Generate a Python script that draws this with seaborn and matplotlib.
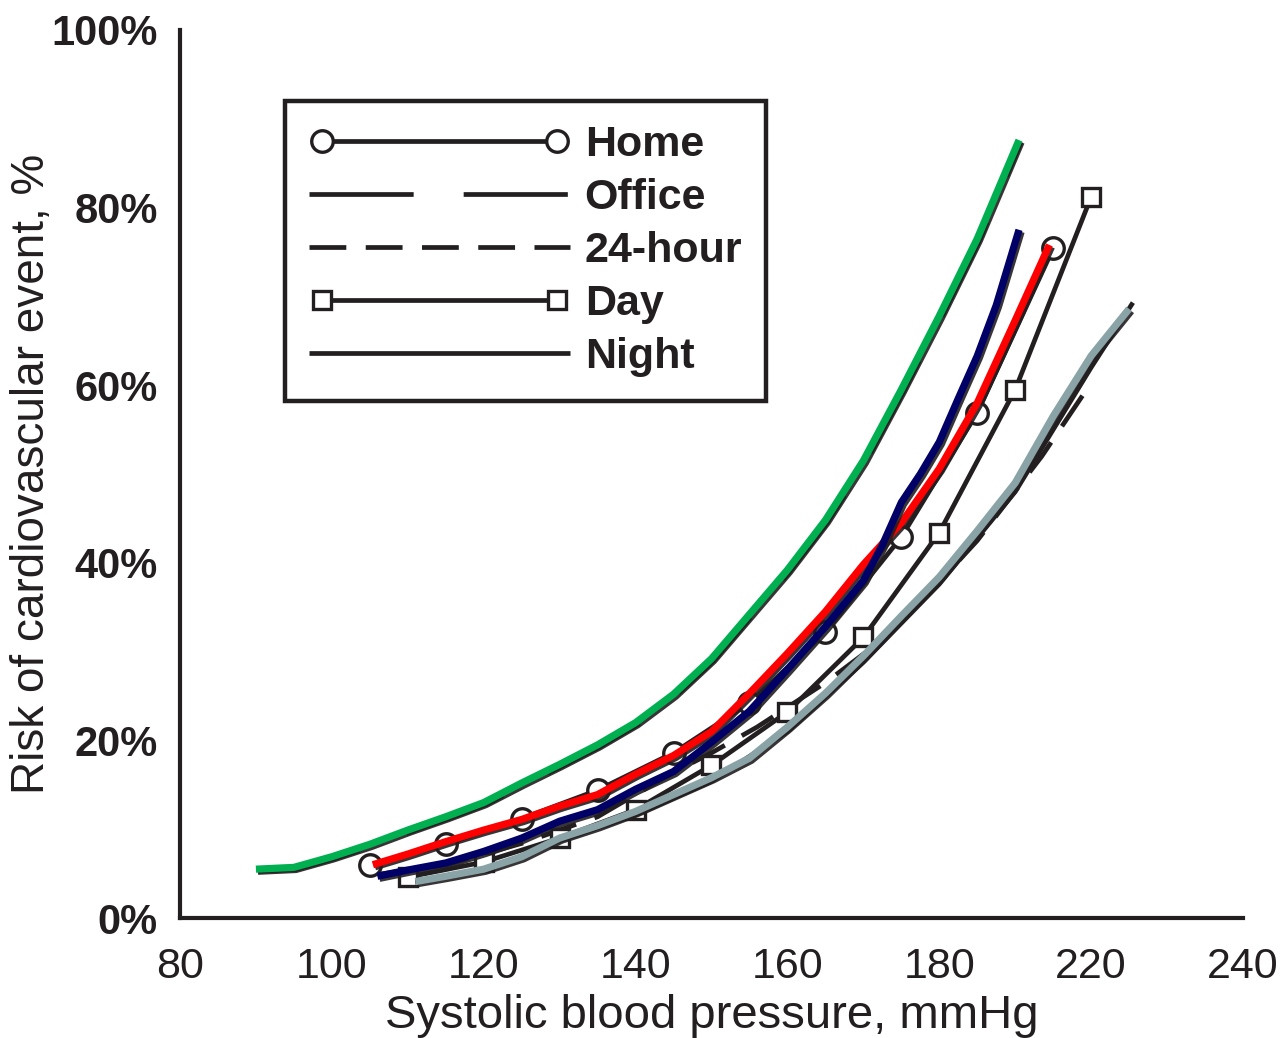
import numpy as np
import pandas as pd
import matplotlib
matplotlib.use("Agg")
import matplotlib.pyplot as plt
import matplotlib.transforms as mtransforms
from matplotlib import patheffects as pe
from matplotlib import font_manager
from matplotlib.legend_handler import HandlerLine2D
import seaborn as sns

# ---------------- data (x in axis position units, y in %) ----------------
x_ticks = [80, 100, 120, 140, 160, 180, 200, 220]
x_tick_labels = ["80", "100", "120", "140", "160", "180", "220", "240"]
y_ticks = [0, 20, 40, 60, 80, 100]
y_tick_labels = ["0%", "20%", "40%", "60%", "80%", "100%"]

legend_labels = ["Home", "Office", "24-hour", "Day", "Night"]

# black curves
home_x = [105, 115, 125, 135, 145, 155, 165, 175, 185, 195]
home_y = [6.0, 8.3, 11.2, 14.4, 18.6, 24.2, 32.2, 42.9, 56.9, 75.4]

office_x = [90, 95, 100, 105, 110, 115, 120, 125, 130, 135, 140, 145, 150,
            155, 160, 165, 170, 175, 180, 185, 190.5]
office_y = [5.5, 5.7, 6.9, 8.3, 9.9, 11.4, 13.0, 15.2, 17.3, 19.5, 22.0,
            25.2, 29.2, 34.2, 39.2, 44.8, 51.5, 59.5, 67.8, 76.5, 87.6]

h24_x = [106, 115, 125, 135, 145, 150, 156, 165, 172, 178, 185, 193.5, 199]
h24_y = [4.9, 6.0, 8.4, 11.4, 16.4, 18.6, 21.5, 26.5, 31.0, 36.0, 42.5, 52.0, 59.0]

day_x = [110, 120, 130, 140, 150, 160, 170, 180, 190, 200]
day_y = [4.6, 6.3, 9.0, 12.2, 17.2, 23.2, 31.6, 43.4, 59.5, 81.2]

night_x = [111, 120, 130, 140, 150, 160, 170, 180, 190, 200, 205.5]
night_y = [4.0, 5.3, 8.7, 11.6, 15.4, 21.0, 28.8, 37.6, 48.0, 62.0, 69.3]

# coloured overlay curves
green_x = office_x
green_y = office_y

red_x = [105.4, 110, 115, 120, 125, 130, 135, 140, 145, 150, 155, 160, 165,
         170, 175, 180, 185, 190, 194.5]
red_y = [6.0, 7.2, 8.6, 9.9, 11.1, 12.6, 13.9, 16.2, 18.3, 21.0, 25.3, 29.8,
         34.5, 39.8, 44.5, 50.6, 58.0, 67.3, 75.8]

navy_x = [106, 110, 115, 120, 125, 130, 135, 140, 145, 150, 155, 160, 165,
          170, 172.5, 175, 177.5, 180, 182.5, 185, 187.5, 190.5]
navy_y = [4.7, 5.4, 6.2, 7.5, 9.0, 10.9, 12.2, 14.5, 16.5, 19.8, 23.3, 28.0,
          32.8, 38.0, 42.0, 46.8, 50.0, 53.6, 58.5, 63.3, 69.0, 77.5]

gray_x = [111, 115, 120, 125, 130, 135, 140, 145, 150, 155, 160, 165, 170,
          175, 180, 185, 190, 195, 200, 205]
gray_y = [4.1, 4.7, 5.5, 6.9, 9.0, 10.4, 12.0, 13.9, 15.8, 18.0, 21.5, 25.3,
          29.5, 34.0, 38.4, 43.6, 49.0, 56.5, 63.3, 68.6]

# ---------------- style ----------------
sns.set_theme(style="white")
names = {f.name for f in font_manager.fontManager.ttflist}
main_font = "Liberation Sans" if "Liberation Sans" in names else "DejaVu Sans"
plt.rcParams["font.family"] = [main_font, "DejaVu Sans"]
plt.rcParams["lines.scale_dashes"] = False
plt.rcParams["lines.solid_capstyle"] = "butt"

INK = "#231f20"
C_GREEN = "#00b050"
C_RED = "#ff0000"
C_NAVY = "#000066"
C_GRAY = "#8aa3a6"

fig = plt.figure(figsize=(12.81, 10.38), dpi=100)
ax = fig.add_axes([180 / 1281, 1 - 918 / 1038, (1243 - 180) / 1281, (918 - 30) / 1038])
ax.set_facecolor("white")

BLW = 3.4
shadow = [pe.SimpleLineShadow(offset=(1.5, -1.5), shadow_color=INK, alpha=0.9), pe.Normal()]

# black curves
sns.lineplot(x=home_x, y=home_y, ax=ax, color=INK, lw=BLW, marker="o", markersize=15.5,
             markerfacecolor="white", markeredgecolor=INK, markeredgewidth=2.4,
             sort=False, estimator=None, zorder=2)
home_line = ax.lines[-1]

off_tr = mtransforms.offset_copy(ax.transData, fig=fig, x=2, y=-2, units="dots")
sns.lineplot(x=office_x, y=office_y, ax=ax, color=INK, lw=BLW,
             linestyle=(0, (75, 36)), sort=False, estimator=None, zorder=2,
             transform=off_tr)
office_line = ax.lines[-1]

sns.lineplot(x=h24_x, y=h24_y, ax=ax, color=INK, lw=BLW,
             linestyle=(0, (26.5, 14)), sort=False, estimator=None, zorder=2)
h24_line = ax.lines[-1]

sns.lineplot(x=day_x, y=day_y, ax=ax, color=INK, lw=BLW, marker="s", markersize=13.5,
             markerfacecolor="white", markeredgecolor=INK, markeredgewidth=2.4,
             sort=False, estimator=None, zorder=2)
day_line = ax.lines[-1]

sns.lineplot(x=night_x, y=night_y, ax=ax, color=INK, lw=BLW,
             sort=False, estimator=None, zorder=2)
night_line = ax.lines[-1]

# coloured overlays
CLW = 5.2
for xs, ys, col in [(gray_x, gray_y, C_GRAY), (green_x, green_y, C_GREEN),
                    (red_x, red_y, C_RED), (navy_x, navy_y, C_NAVY)]:
    sns.lineplot(x=xs, y=ys, ax=ax, color=col, lw=CLW, sort=False, estimator=None,
                 zorder=3, path_effects=shadow, solid_capstyle="butt",
                 solid_joinstyle="round")

# axes
ax.set_xlim(80, 220)
ax.set_ylim(0, 100)
ax.set_xticks(x_ticks)
ax.set_xticklabels(x_tick_labels)
ax.set_yticks(y_ticks)
ax.set_yticklabels(y_tick_labels)
for s in ["top", "right"]:
    ax.spines[s].set_visible(False)
for s in ["left", "bottom"]:
    ax.spines[s].set_color(INK)
    ax.spines[s].set_linewidth(3.0)
ax.tick_params(axis="both", direction="out", color=INK, width=3.0, length=11)
ax.tick_params(axis="y", pad=5, labelsize=30, labelcolor=INK)
ax.tick_params(axis="x", pad=10, labelsize=31, labelcolor=INK)
for t in ax.get_yticklabels():
    t.set_fontweight("bold")

ax.set_xlabel("Systolic blood pressure, mmHg", fontsize=34, color=INK, labelpad=5)
ax.set_ylabel("Risk of cardiovascular event, %", fontsize=33, color=INK)
ax.yaxis.set_label_coords((54 - 180) / 1063, 0.5)
ax.grid(False)

hm = {home_line: HandlerLine2D(marker_pad=0.3), day_line: HandlerLine2D(marker_pad=0.3),
      office_line: HandlerLine2D(marker_pad=0.0), h24_line: HandlerLine2D(marker_pad=0.0),
      night_line: HandlerLine2D(marker_pad=0.0)}
leg = ax.legend(handles=[home_line, office_line, h24_line, day_line, night_line],
                labels=legend_labels, loc="upper left",
                bbox_to_anchor=(285 / 1281, 1 - 101 / 1038),
                bbox_transform=fig.transFigure, borderaxespad=0,
                prop={"family": main_font, "weight": "bold", "size": 31},
                handlelength=6.05, handletextpad=0.35, labelspacing=0.3,
                borderpad=0.56, numpoints=2, frameon=True, fancybox=False,
                edgecolor=INK, framealpha=1, handler_map=hm)
leg.get_frame().set_linewidth(3.2)
for t in leg.get_texts():
    t.set_color(INK)

fig.savefig("out.png", dpi=100, facecolor="white")
